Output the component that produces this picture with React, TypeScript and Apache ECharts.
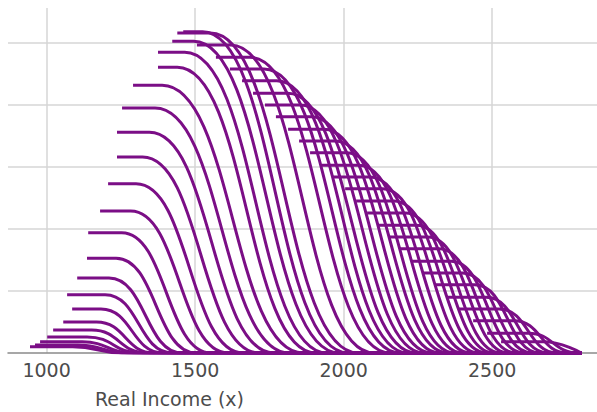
import React, { useEffect, useRef } from "react";
import * as echarts from "echarts";

// Tick labels on the income axis
const xTicks = [1000, 1500, 2000, 2500];
const yGrid = [1, 2, 3, 4, 5];

// Each curve: flat at `height` from `start` to `corner`, then falls to 0 at `end`
// Left (rising) family
const leftStart = [944, 961, 978, 1002, 1022, 1056, 1086, 1069, 1103, 1136, 1140, 1180, 1207, 1237, 1237, 1254, 1291, 1375, 1375, 1423, 1460];
const leftCorner = [1088, 1105, 1120, 1136, 1152, 1168, 1183, 1197, 1210, 1234, 1253, 1283, 1301, 1323, 1346, 1365, 1389, 1440, 1465, 1495, 1525];
const leftEnd = [1254, 1271, 1291, 1315, 1338, 1362, 1392, 1423, 1456, 1503, 1554, 1611, 1662, 1716, 1766, 1817, 1864, 1907, 1944, 1985, 2015];
const leftHeight = [0.10, 0.13, 0.18, 0.26, 0.37, 0.50, 0.71, 0.94, 1.21, 1.53, 1.94, 2.29, 2.73, 3.16, 3.56, 3.95, 4.32, 4.61, 4.85, 5.03, 5.18];

// Right (falling envelope) family
const rightStart = [1440, 1506, 1570, 1617, 1658, 1695, 1735, 1772, 1813, 1850, 1887, 1927, 1964, 2005, 2042, 2079, 2116, 2153, 2190, 2230, 2267, 2308, 2345, 2388, 2436, 2483, 2530];
const rightCorner = [1551, 1619, 1684, 1732, 1775, 1812, 1854, 1891, 1934, 1972, 2010, 2051, 2089, 2131, 2169, 2207, 2245, 2283, 2321, 2362, 2400, 2442, 2480, 2524, 2574, 2622, 2672];
const rightEnd = [2049, 2103, 2157, 2190, 2217, 2244, 2271, 2298, 2325, 2352, 2375, 2402, 2429, 2456, 2483, 2507, 2530, 2557, 2581, 2608, 2635, 2662, 2689, 2719, 2753, 2790, 2800];
const rightHeight = [5.16, 4.97, 4.77, 4.58, 4.39, 4.19, 4.00, 3.81, 3.61, 3.42, 3.23, 3.03, 2.84, 2.65, 2.45, 2.26, 2.06, 1.87, 1.68, 1.48, 1.29, 1.10, 0.90, 0.71, 0.52, 0.32, 0.18];

const baselineEnd = 2800;

const PURPLE = "#7b0e86";

function buildSeries(starts: number[], corners: number[], ends: number[], heights: number[]) {
  return starts.map((s, i) => {
    const pts: number[][] = [
      [s, heights[i]],
      [corners[i], heights[i]],
      [ends[i], 0],
    ];
    if (ends[i] < baselineEnd) pts.push([baselineEnd, 0]);
    return {
      type: "line",
      data: pts,
      smooth: 0.5,
      smoothMonotone: "x",
      showSymbol: false,
      symbol: "none",
      silent: true,
      lineStyle: { color: PURPLE, width: 3 },
      z: 3,
    };
  });
}

export default function App() {
  const ref = useRef<HTMLDivElement>(null);
  useEffect(() => {
    if (!ref.current) return;
    const chart = echarts.init(ref.current, undefined, { renderer: "svg" });
    const series = [
      ...buildSeries(leftStart, leftCorner, leftEnd, leftHeight),
      ...buildSeries(rightStart, rightCorner, rightEnd, rightHeight),
    ];
    chart.setOption({
      animation: false,
      backgroundColor: "#ffffff",
      grid: { left: 8, right: 0, top: 8, bottom: 59, containLabel: false },
      xAxis: {
        type: "value",
        min: 870,
        max: 2853,
        axisLine: { show: true, lineStyle: { color: "#8a8a8a", width: 1.5 } },
        axisTick: { show: false, customValues: xTicks },
        axisLabel: {
          customValues: xTicks,
          formatter: (v: number) => String(v),
          margin: 7,
          fontSize: 19,
          fontFamily: "DejaVu Sans",
          color: "#4c4c4c",
        },
        splitLine: { show: true, lineStyle: { color: "#d6d6d6", width: 1.5 } },
      },
      yAxis: {
        type: "value",
        min: 0,
        max: 5.565,
        axisLine: { show: false },
        axisTick: { show: false, customValues: yGrid },
        axisLabel: { show: false, customValues: yGrid },
        splitLine: { show: true, lineStyle: { color: "#d6d6d6", width: 1.5 } },
      },
      graphic: [
        {
          type: "text",
          left: 95,
          top: 389,
          style: {
            text: "Real Income (x)",
            fontSize: 19,
            fontFamily: "DejaVu Sans",
            fill: "#4c4c4c",
          },
        },
      ],
      series,
    });
    return () => chart.dispose();
  }, []);
  return <div ref={ref} style={{ width: 597, height: 412, position: "absolute", left: 0, top: 0 }} />;
}
